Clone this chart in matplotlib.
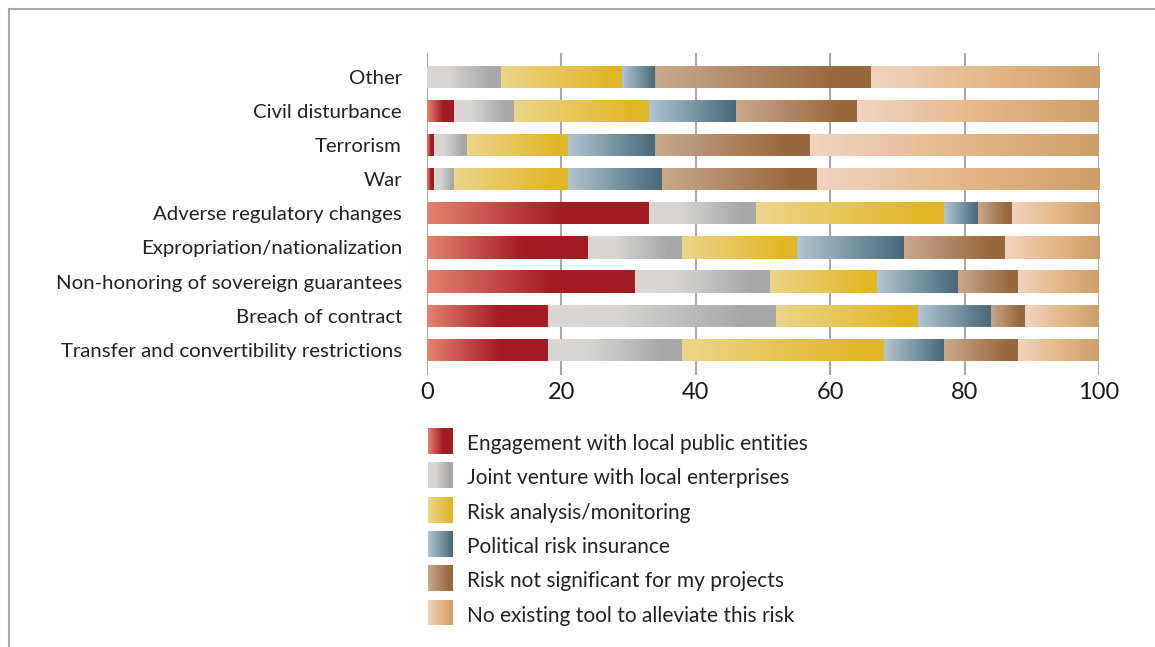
import numpy as np
import matplotlib.pyplot as plt
from matplotlib.colors import LinearSegmentedColormap
from matplotlib.lines import Line2D

plt.rcParams['font.family'] = ['Lato', 'DejaVu Sans']

# Data (top to bottom as in the picture)
risks = ['Other', 'Civil disturbance', 'Terrorism', 'War',
         'Adverse regulatory changes', 'Expropriation/nationalization',
         'Non-honoring of sovereign guarantees', 'Breach of contract',
         'Transfer and convertibility restrictions']
series = ['Engagement with local public entities',
          'Joint venture with local enterprises',
          'Risk analysis/monitoring',
          'Political risk insurance',
          'Risk not significant for my projects',
          'No existing tool to alleviate this risk']
engagement = [0, 4, 1, 1, 33, 24, 31, 18, 18]
joint_venture = [11, 9, 5, 3, 16, 14, 20, 34, 20]
risk_analysis = [18, 20, 15, 17, 28, 17, 16, 21, 30]
insurance = [5, 13, 13, 14, 5, 16, 12, 11, 9]
not_significant = [32, 18, 23, 23, 5, 15, 9, 5, 11]
no_tool = [34, 36, 43, 42, 13, 14, 12, 11, 12]
values = [engagement, joint_venture, risk_analysis, insurance, not_significant, no_tool]
xticks = [0, 20, 40, 60, 80, 100]

# gradient colour stops for each series (light -> dark)
grads = [
    [(0.0, '#e6826f'), (0.6, '#a21c22'), (1.0, '#a21c22')],
    [(0.0, '#dad7d2'), (0.3, '#d8d5d0'), (0.85, '#a7a8aa'), (1.0, '#a7a8aa')],
    [(0.0, '#edd58a'), (0.9, '#e1b626'), (1.0, '#e1b626')],
    [(0.0, '#b1c5d1'), (1.0, '#456878')],
    [(0.0, '#c9a98b'), (0.85, '#98683e'), (1.0, '#98683e')],
    [(0.0, '#f1d4c0'), (0.45, '#e6bb8f'), (1.0, '#cd9e68')],
]
cmaps = [LinearSegmentedColormap.from_list('g%d' % i, g) for i, g in enumerate(grads)]
ramp = np.linspace(0, 1, 256).reshape(1, -1)


def fill_gradient(ax, patch, cmap):
    x0, y0 = patch.get_x(), patch.get_y()
    w, h = patch.get_width(), patch.get_height()
    if w <= 0:
        return
    im = ax.imshow(ramp, cmap=cmap, aspect='auto', interpolation='bilinear',
                   extent=[x0, x0 + w, y0, y0 + h], zorder=3)
    im.set_clip_path(patch)


fig = plt.figure(figsize=(11.55, 6.47), dpi=100)
ax = fig.add_axes([427 / 1155, 272 / 647, 672 / 1155, 322 / 647])

ypos = np.arange(len(risks))[::-1]
left = np.zeros(len(risks))
for vals, cmap in zip(values, cmaps):
    bars = ax.barh(ypos, vals, left=left, height=0.65, color='none',
                   edgecolor='none', zorder=3)
    for p in bars.patches:
        fill_gradient(ax, p, cmap)
    left += np.array(vals)

ax.set_xlim(0, 100)
ax.set_ylim(-0.74, len(risks) - 1 + 0.7)
ax.set_xticks(xticks)
ax.set_xticklabels([str(t) for t in xticks], fontsize=17, color='#1a1a1a')
ax.set_yticks(ypos)
ax.set_yticklabels(risks, fontsize=14.7, color='#222222', va='center_baseline')
ax.tick_params(axis='x', length=0, pad=5)
ax.tick_params(axis='y', length=0, pad=18)
ax.xaxis.grid(True, color='#a8a8a8', lw=1.5, zorder=1)
for s in ax.spines.values():
    s.set_visible(False)

# legend drawn by hand
lax = fig.add_axes([0, 0, 1, 1], zorder=-1)
lax.set_xlim(0, 1155)
lax.set_ylim(647, 0)
lax.axis('off')
for i, (name, cmap) in enumerate(zip(series, cmaps)):
    y = 428 + i * 34.3
    bar = lax.bar(428, 26, width=25, bottom=y, align='edge', color='none', edgecolor='none')
    fill_gradient(lax, bar.patches[0], cmap)
    lax.text(467, y + 16, name, fontsize=15, va='center', ha='left', color='#222222')

# frame lines
fig.add_artist(Line2D([9 / 1155, 1], [1 - 9 / 647] * 2, color='#a8a8a8', lw=1.5))
fig.add_artist(Line2D([9 / 1155] * 2, [0, 1 - 9 / 647], color='#a8a8a8', lw=1.5))

fig.savefig('out.png', dpi=100)
